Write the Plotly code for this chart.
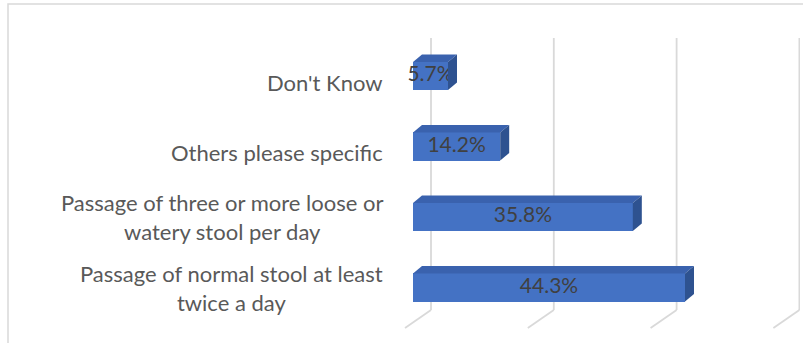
import plotly.graph_objects as go

# Survey responses (share of respondents, %), listed bottom to top
categories = [
    "Passage of normal stool at least<br>twice a day",
    "Passage of three or more loose or<br>watery stool per day",
    "Others please specific",
    "Don't Know",
]
percent = [44.3, 35.8, 14.2, 5.7]
grid_ticks = [0, 20, 40, 60]

# ---- canvas / plot geometry -------------------------------------------
W, H = 803, 343
L, R, T, B = 400, 3, 36, 11
pw, ph = W - L - R, H - T - B
x_per = 6.14      # pixels per percentage point
y_per = 70.5      # pixels between category rows
x_lo = -13 / x_per
x_hi = x_lo + pw / x_per
y_hi = 251.5 / y_per
y_lo = y_hi - ph / y_per

# oblique "3-D" offsets, expressed in data units
bar_dx, bar_dy = 9 / x_per, 7.5 / y_per          # depth of each bar
wall_dx = 18 / x_per                             # back wall behind bar front
floor_dx = -8 / x_per                            # front edge of the floor
floor_back = -22.5 / y_per
floor_front = -40.5 / y_per
wall_top = 249.5 / y_per

bar_w = 0.4
FRONT, TOP, SIDE = "#4472C4", "#3A62AE", "#2E5290"
GRID = "#D9D9D9"

ys = list(range(len(categories)))

fig = go.Figure()

fig.add_trace(go.Bar(
    x=percent, y=ys, orientation="h", width=bar_w,
    marker=dict(color=FRONT, line=dict(width=0)),
    hoverinfo="skip",
))

fig.add_trace(go.Scatter(
    x=[v / 2 for v in percent], y=ys, mode="text",
    text=[f"{v}%" for v in percent],
    textfont=dict(family="Lato", size=21, color="#404040"),
    hoverinfo="skip",
))

shapes = []
# gridlines on the back wall plus their slanted floor segments
for t in grid_ticks:
    xb = t + wall_dx
    shapes.append(dict(type="line", xref="x", yref="y", layer="below",
                       x0=xb, x1=xb, y0=floor_back, y1=wall_top,
                       line=dict(color=GRID, width=1.8)))
    shapes.append(dict(type="line", xref="x", yref="y", layer="below",
                       x0=xb, x1=t + floor_dx, y0=floor_back, y1=floor_front,
                       line=dict(color=GRID, width=1.8)))

# top and end faces of each bar
for v, y in zip(percent, ys):
    top = y + bar_w / 2
    bot = y - bar_w / 2
    shapes.append(dict(
        type="path", xref="x", yref="y", layer="above",
        path=(f"M 0,{top} L {v},{top} L {v + bar_dx},{top + bar_dy} "
              f"L {bar_dx},{top + bar_dy} Z"),
        fillcolor=TOP, line=dict(width=0)))
    shapes.append(dict(
        type="path", xref="x", yref="y", layer="above",
        path=(f"M {v},{bot} L {v},{top} L {v + bar_dx},{top + bar_dy} "
              f"L {v + bar_dx},{bot + bar_dy} Z"),
        fillcolor=SIDE, line=dict(width=0)))

# light chart-area frame
def px_to_paper(px, py):
    return (px - L) / pw, 1 - (py - T) / ph

fx0, fy0 = px_to_paper(8, 4)
fx1, fy1 = px_to_paper(W + 6, H + 6)
shapes.append(dict(type="rect", xref="paper", yref="paper", layer="below",
                   x0=fx0, y0=fy0, x1=fx1, y1=fy1,
                   line=dict(color="#D9D9D9", width=1.5)))

# category labels, centred lines, right edge beside the bars
lab_x = (385 - L) / pw
annotations = [
    dict(text=c, xref="paper", yref="y", x=lab_x, y=y,
         xanchor="right", yanchor="middle", align="center",
         yshift=(0 if "<br>" in c else -6),
         showarrow=False,
         font=dict(family="Lato", size=22, color="#595959"))
    for c, y in zip(categories, ys)
]

fig.update_layout(
    width=W, height=H,
    margin=dict(l=L, r=R, t=T, b=B, pad=0),
    paper_bgcolor="white", plot_bgcolor="rgba(0,0,0,0)",
    showlegend=False, hovermode=False,
    xaxis=dict(range=[x_lo, x_hi], visible=False, fixedrange=True),
    yaxis=dict(range=[y_lo, y_hi], visible=False, fixedrange=True),
    shapes=shapes, annotations=annotations,
    bargap=0,
)

fig.write_html("out.html")
